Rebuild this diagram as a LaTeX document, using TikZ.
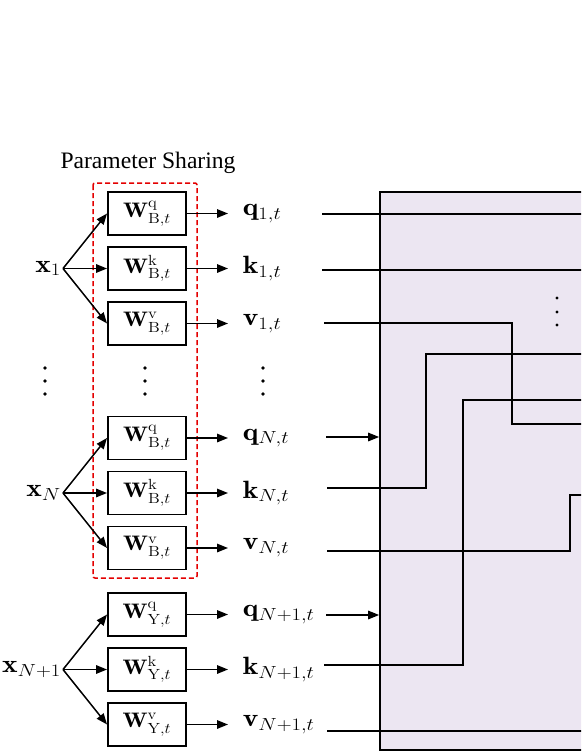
\RequirePackage{fix-cm}
\documentclass[tikz,border=0pt]{standalone}
\usepackage{fontspec}
\newfontfamily\timesfont{Liberation Serif}
\usetikzlibrary{arrows.meta,positioning,calc}
\usepackage{amsmath,amssymb,xcolor}
\definecolor{mylav}{RGB}{236,230,242}
\definecolor{myred}{RGB}{228,0,0}

\begin{document}
\begin{tikzpicture}[x=1pt,y=-1pt,line width=1.5pt,
  >={Triangle[length=11pt,width=8.5pt]},
  wbox/.style={draw,xscale=1.15,minimum width=68pt,minimum height=43pt,inner sep=0pt,
    font=\fontsize{21}{25}\selectfont},
  lab/.style={anchor=west,inner sep=0pt,xscale=1.18,font=\fontsize{25}{29}\selectfont},
  xlab/.style={anchor=east,inner sep=1pt,xscale=1.18,font=\fontsize{25}{29}\selectfont}]
\clip (0,0) rectangle (581,752);
% attention block, cut off at the right
\node[draw,fill=mylav,line width=1.7pt,minimum width=240pt,minimum height=558pt,
  inner sep=0pt] (attn) at (500,471) {};
\coordinate (rim) at (600,0);
% shared projection
\draw[myred,dash pattern=on 5pt off 3pt,rounded corners=2pt] (93,183) rectangle (197,578);
\node[font=\timesfont\fontsize{23.6}{28}\selectfont] (ps) at (148,163) {Parameter Sharing};
% projections per agent
\foreach \g/\yy/\sub/\idx in {1/213.5/B/1, N/438/B/N, Np/614.5/Y/N+1}{
  \node[xlab] (x\g) at (63,\yy+55) {$\mathbf{x}_{\idx}$};
  \node[wbox] (bq\g) at (147,\yy) {$\mathbf{W}^{\mathrm{q}}_{\mathrm{\sub},t}$};
  \node[wbox] (bk\g) at (147,\yy+55) {$\mathbf{W}^{\mathrm{k}}_{\mathrm{\sub},t}$};
  \node[wbox] (bv\g) at (147,\yy+110) {$\mathbf{W}^{\mathrm{v}}_{\mathrm{\sub},t}$};
  \node[lab] (q\g) at (242,\yy) {$\mathbf{q}_{\idx,t}$};
  \node[lab] (k\g) at (242,\yy+55) {$\mathbf{k}_{\idx,t}$};
  \node[lab] (v\g) at (242,\yy+110) {$\mathbf{v}_{\idx,t}$};
  \foreach \m in {q,k,v}{
    \draw[->] (x\g.east) -- (b\m\g.west);
    \draw[->,shorten >=14pt] (b\m\g.east) -- (\m\g.west);
  }
}
% dots
\foreach \x in {45,145,263}
  \foreach \y in {368,381,394} {\fill (\x,\y) circle (1.8);}
\foreach \y in {298,312,325} {\fill (557,\y) circle (1.7);}
% wires into the block
\coordinate (q1r) at (322,214);
\coordinate (k1r) at (322,270);
\coordinate (v1r) at (324,323);
\coordinate (qNr) at (326,437);
\coordinate (kNr) at (327,488);
\coordinate (vNr) at (327,551);
\coordinate (qNpr) at (326,615);
\coordinate (kNpr) at (324,665);
\coordinate (vNpr) at (327,731);
\draw (q1r) -- (q1r -| rim);
\draw (k1r) -- (k1r -| rim);
\draw (v1r) -| ++(188,101) -- ++(100,0);
\draw (kNr) -| ++(99,-134) -- ++(200,0);
\draw (kNpr) -| ++(139,-265) -- ++(200,0);
\draw (vNr) -| ++(243,-56) -- ++(50,0);
\draw (vNpr) -- (vNpr -| rim);
\draw[->] (qNr) -- (qNr -| attn.west);
\draw[->] (qNpr) -- (qNpr -| attn.west);
\end{tikzpicture}
\end{document}
